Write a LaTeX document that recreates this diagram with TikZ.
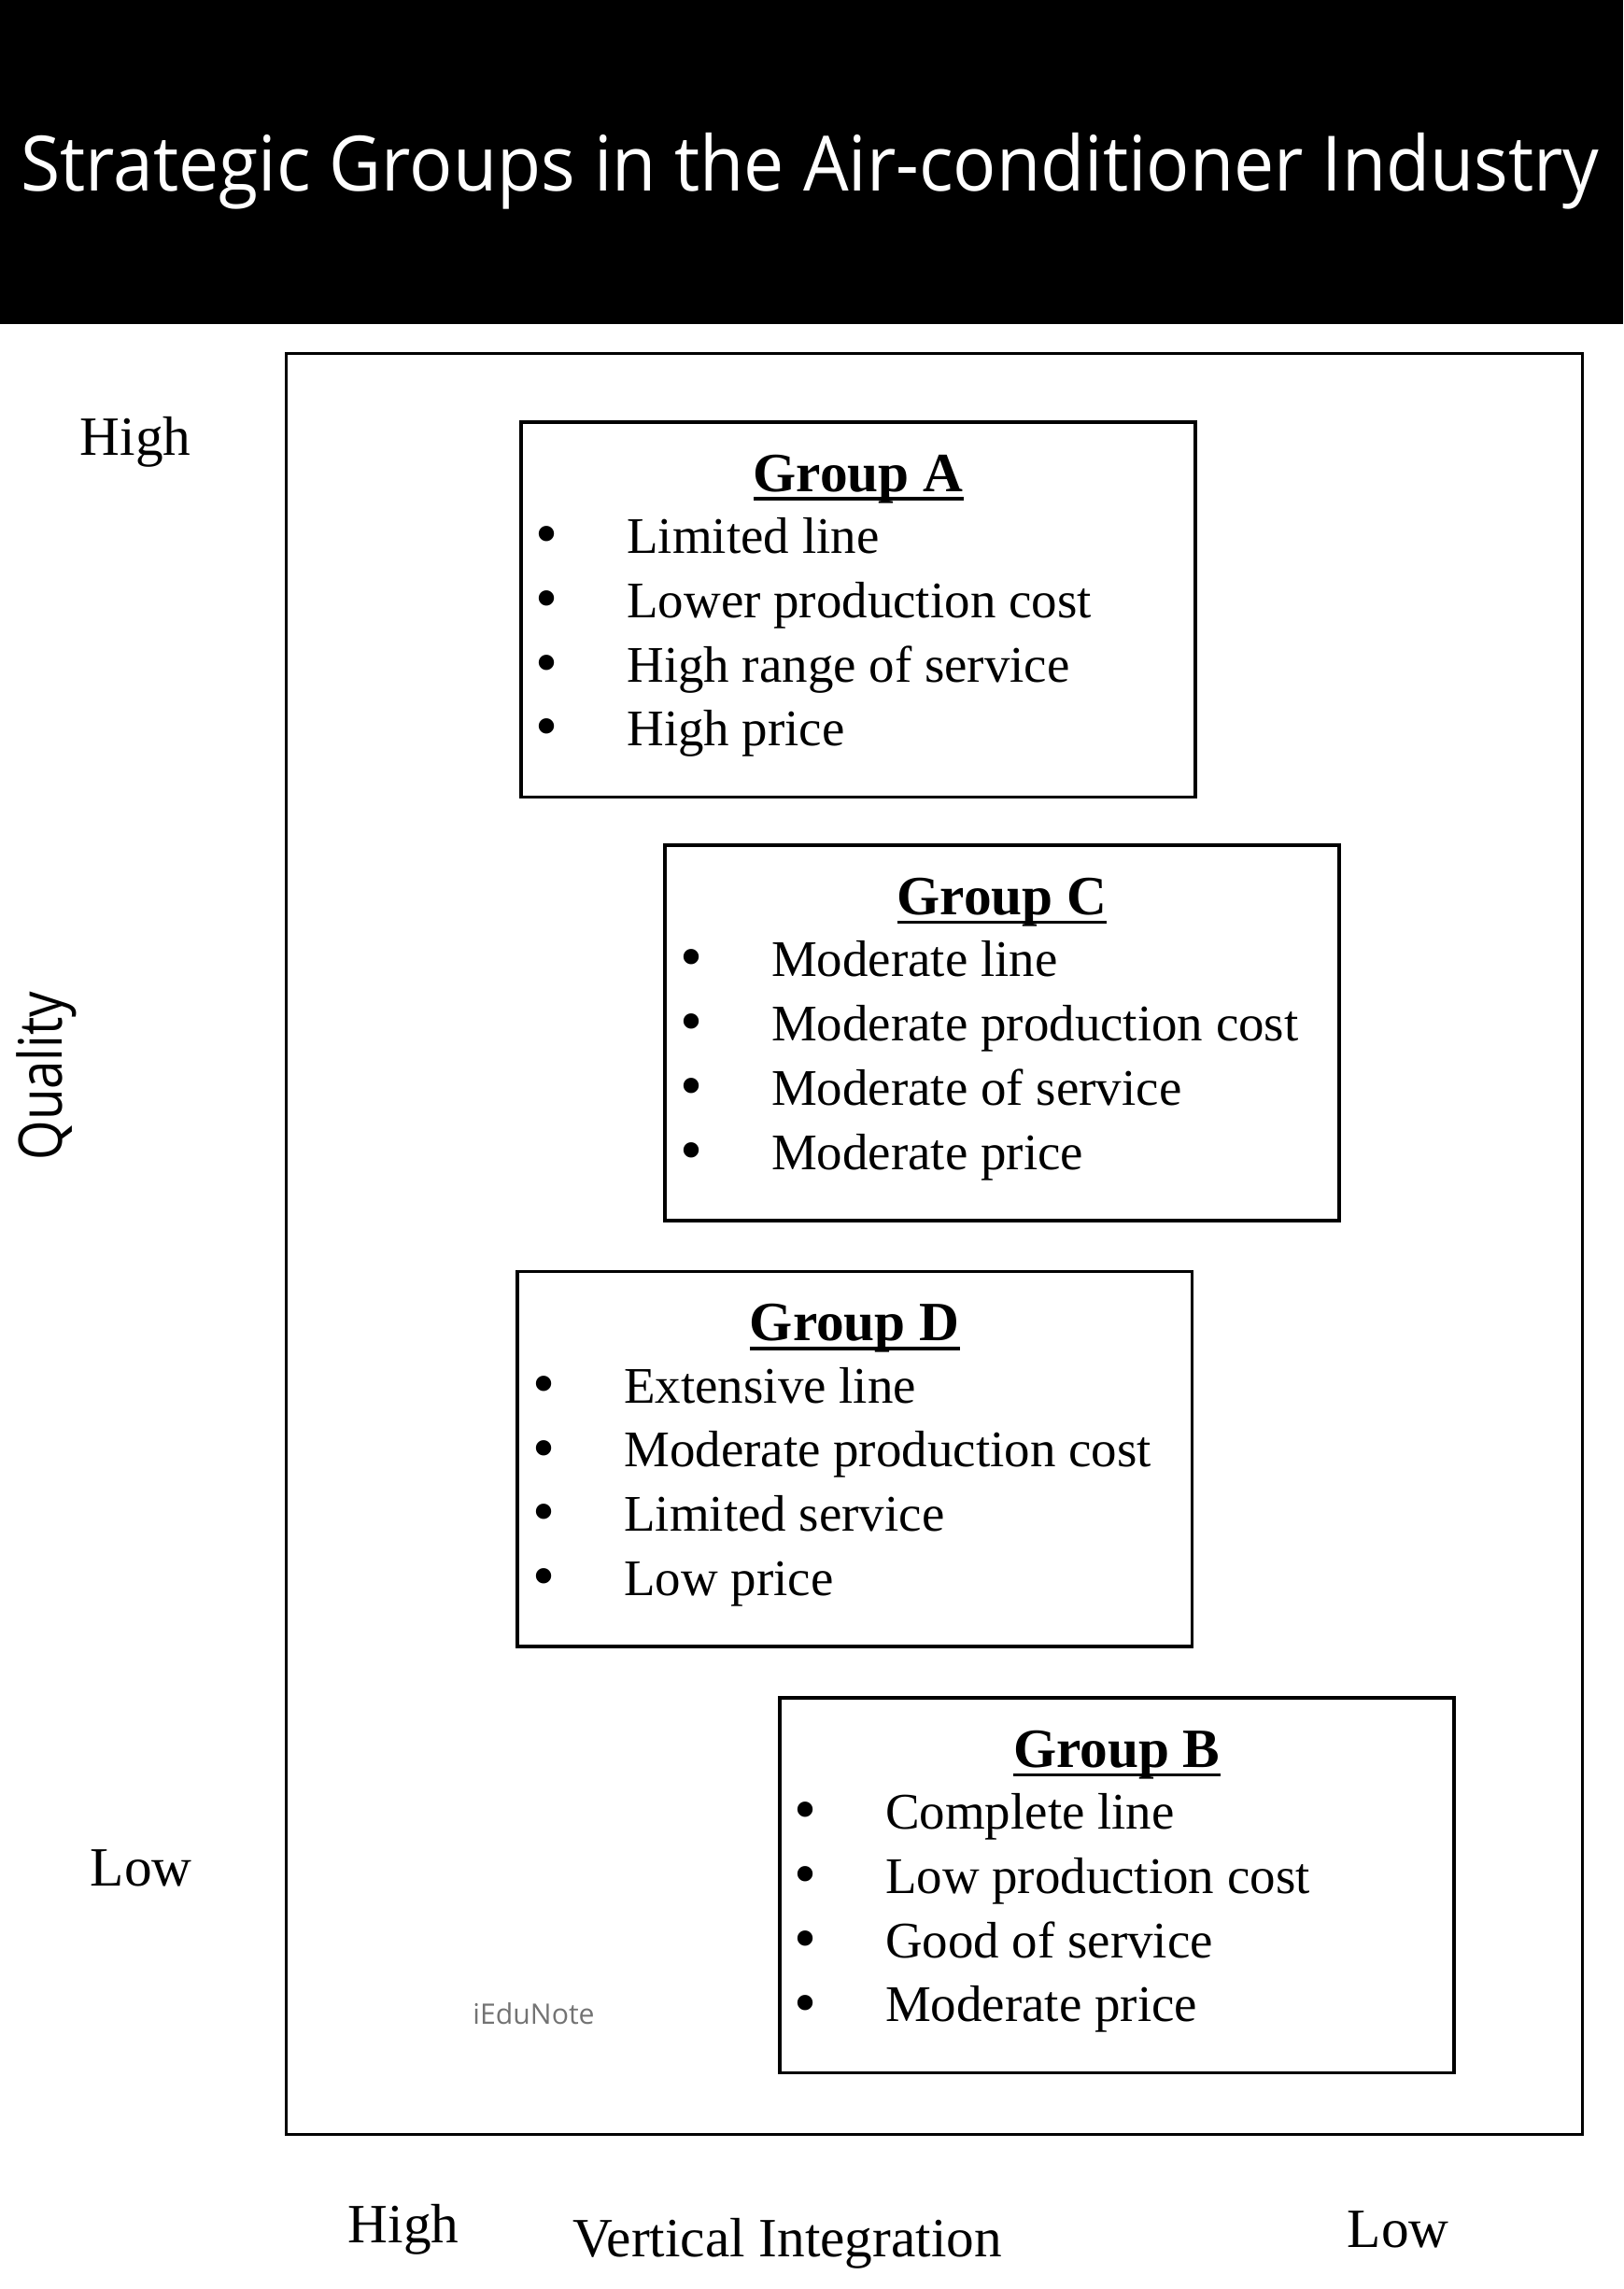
\documentclass[tikz,border=0pt]{standalone}
\usepackage{fontspec}
\setmainfont{Liberation Serif}
\newfontfamily\bannerfont{Open Sans}
\usepackage{graphicx}
\newcommand{\grouphead}[1]{\setbox0\hbox{#1}\rlap{\rule[-1.85pt]{\wd0}{0.7pt}}\box0}
\newcommand{\dotitem}[1]{\makebox[6.25mm][l]{\raisebox{-0.4pt}{\fontsize{12.5}{12.5}\selectfont\textbullet}}#1}
\tikzset{
    every node/.style={inner sep=0mm, outer sep=0mm},
    banner/.style={fill=black, minimum width=11.12cm, minimum height=2.22cm},
    plotbox/.style={draw, line width=0.65pt, minimum width=8.88cm, minimum height=12.2cm},
    groupbox/.style={draw, line width=0.65pt, minimum width=4.62cm, minimum height=2.57cm},
    grouptitle/.style={anchor=base, font=\fontsize{10.8}{13}\selectfont\bfseries},
    groupitem/.style={anchor=base west, font=\fontsize{10}{12}\selectfont},
    axislabel/.style={anchor=base west, font=\fontsize{10.8}{13}\selectfont}
}

\begin{document}
\begin{tikzpicture}[x=0.1mm, y=-0.1mm]
    \useasboundingbox (0,0) rectangle (1112,1568);

    \node (bar) [banner] at (556,111) {};
    \node (title) [anchor=base, text=white, font=\bannerfont\fontsize{14.9}{18}\selectfont] at (555,131) {\scalebox{0.939}[1]{Strategic Groups in the Air-conditioner Industry}};

    \node (plot) [plotbox] at (640,852) {};

    \node (qhigh) [axislabel] at (55,311.8) {High};
    \node (qlow) [axislabel] at (62,1291.8) {Low};
    \node (quality) [rotate=90, anchor=base, font=\bannerfont\fontsize{11.7}{14}\selectfont] at (42.7,737) {\scalebox{0.85}[1]{Quality}};

    \node (vhigh) [axislabel] at (238.6,1536.6) {High};
    \node (vint) [axislabel] at (392.4,1546) {Vertical Integration};
    \node (vlow) [axislabel] at (923,1539.4) {Low};

    \node (mark) [anchor=base west, text=black!55, font=\bannerfont\fontsize{5.5}{7}\selectfont] at (324,1386.5) {iEduNote};

    % Group A
    \node (grpA) [groupbox] at (588,417.5) {};
    \node (headA) [grouptitle] at (588,336.5) {\grouphead{Group A}};
    \foreach \txt [count=\i] in {Limited line, Lower production cost, High range of service, High price}
        \node (itemA\i) [groupitem] at (367,{335+44*\i}) {\dotitem{\txt}};

    % Group C
    \node (grpC) [groupbox] at (686.5,707.5) {};
    \node (headC) [grouptitle] at (686.5,626.5) {\grouphead{Group C}};
    \foreach \txt [count=\i] in {Moderate line, Moderate production cost, Moderate of service, Moderate price}
        \node (itemC\i) [groupitem] at (466,{625+44*\i}) {\dotitem{\txt}};

    % Group D
    \node (grpD) [groupbox] at (585.5,999.5) {};
    \node (headD) [grouptitle] at (585.5,918.5) {\grouphead{Group D}};
    \foreach \txt [count=\i] in {Extensive line, Moderate production cost, Limited service, Low price}
        \node (itemD\i) [groupitem] at (365,{917+44*\i}) {\dotitem{\txt}};

    % Group B
    \node (grpB) [groupbox] at (765,1291.5) {};
    \node (headB) [grouptitle] at (765,1210.5) {\grouphead{Group B}};
    \foreach \txt [count=\i] in {Complete line, Low production cost, Good of service, Moderate price}
        \node (itemB\i) [groupitem] at (544,{1209+44*\i}) {\dotitem{\txt}};
\end{tikzpicture}
\end{document}
